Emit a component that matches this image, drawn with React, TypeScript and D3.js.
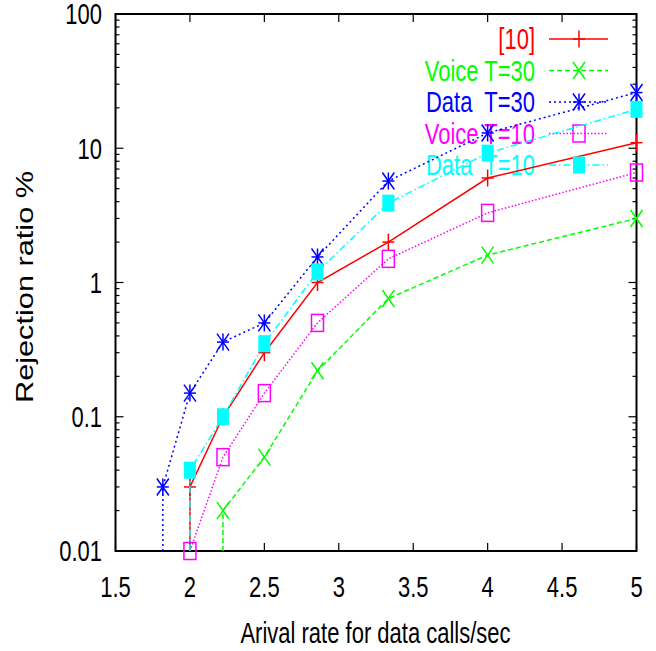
import { useEffect, useRef } from 'react'
import * as d3 from 'd3'

// arrival rates (data calls/sec)
const RATES = [1.818, 2, 2.222, 2.5, 2.857, 3.333, 4, 5]

// rejection ratio % per series, null = not plotted
const REF10 = [null, 0.03, 0.1, 0.3, 1.0, 2.0, 6.0, 11]
const VOICE_T30 = [null, null, 0.02, 0.05, 0.22, 0.76, 1.6, 3.0]
const DATA_T30 = [0.03, 0.15, 0.36, 0.5, 1.55, 5.7, 13, 26]
const VOICE_T10 = [null, 0.01, 0.05, 0.15, 0.5, 1.5, 3.3, 6.6]
const DATA_T10 = [null, 0.04, 0.1, 0.35, 1.2, 3.9, 9.2, 19.5]

const X_TICKS = [1.5, 2, 2.5, 3, 3.5, 4, 4.5, 5]
const Y_TICKS = [0.01, 0.1, 1, 10, 100]

const SERIES = [
  { label: '[10]', values: REF10, color: '#ff0000', dash: null, marker: 'plus' },
  { label: 'Voice T=30', values: VOICE_T30, color: '#00ff00', dash: '5,3', marker: 'cross' },
  { label: 'Data  T=30', values: DATA_T30, color: '#0000ff', dash: '2,3', marker: 'star' },
  { label: 'Voice T=10', values: VOICE_T10, color: '#ff00ff', dash: '1.5,2', marker: 'box' },
  { label: 'Data  T=10', values: DATA_T10, color: '#00ffff', dash: '7,3,1.5,3', marker: 'fbox' },
]

const FONT = "'Liberation Sans', Arial, sans-serif"
const FS = 22
const SY = 1.32 // the original figure is stretched vertically

export default function App() {
  const svgRef = useRef<SVGSVGElement>(null)

  useEffect(() => {
    const svg = d3.select(svgRef.current)
    svg.selectAll('*').remove()

    const L = 115.5, R = 636.5, T = 14, B = 551
    const x = d3.scaleLinear().domain([1.5, 5]).range([L, R])
    const y = d3.scaleLog().domain([0.01, 100]).range([B, T])

    const hText = (g, tx, ty, txt, anchor, color) =>
      g.append('text')
        .attr('transform', `translate(${tx},${ty}) scale(1,${SY})`)
        .attr('text-anchor', anchor)
        .attr('font-family', FONT).attr('font-size', FS)
        .attr('fill', color)
        .style('white-space', 'pre')
        .text(txt)

    const capHalf = (0.716 * FS * SY) / 2

    // ticks
    const tk = svg.append('g').attr('stroke', '#000').attr('stroke-width', 1.2)
    X_TICKS.forEach(v => {
      tk.append('line').attr('x1', x(v)).attr('x2', x(v)).attr('y1', B).attr('y2', B - 8)
      tk.append('line').attr('x1', x(v)).attr('x2', x(v)).attr('y1', T).attr('y2', T + 8)
    })
    Y_TICKS.forEach((v, i) => {
      tk.append('line').attr('x1', L).attr('x2', L + 8).attr('y1', y(v)).attr('y2', y(v))
      tk.append('line').attr('x1', R).attr('x2', R - 8).attr('y1', y(v)).attr('y2', y(v))
      if (i < Y_TICKS.length - 1) {
        for (let m = 2; m <= 9; m++) {
          const yy = y(v * m)
          tk.append('line').attr('x1', L).attr('x2', L + 4).attr('y1', yy).attr('y2', yy)
          tk.append('line').attr('x1', R).attr('x2', R - 4).attr('y1', yy).attr('y2', yy)
        }
      }
    })

    // frame
    svg.append('rect').attr('x', L).attr('y', T).attr('width', R - L).attr('height', B - T)
      .attr('fill', 'none').attr('stroke', '#000').attr('stroke-width', 2)

    // tick labels
    Y_TICKS.forEach(v => hText(svg, 102, y(v) + capHalf, String(v), 'end', '#000'))
    X_TICKS.forEach(v => hText(svg, x(v), 587 + capHalf, String(v), 'middle', '#000'))

    // axis titles
    hText(svg, (L + R) / 2 - 0.5, 643, 'Arival rate for data calls/sec', 'middle', '#000')
    svg.append('text')
      .attr('transform', `translate(33,287) rotate(-90) scale(1.28,1)`)
      .attr('text-anchor', 'middle')
      .attr('font-family', FONT).attr('font-size', 24)
      .text('Rejection ratio %')

    const drawMarker = (g, kind, cx, cy, color) => {
      const w = 6, h = 8.5
      const m = g.append('g').attr('transform', `translate(${cx},${cy})`)
        .attr('stroke', color).attr('stroke-width', 1.5).attr('fill', 'none')
      const seg = (x1, y1, x2, y2) => m.append('line').attr('x1', x1).attr('y1', y1).attr('x2', x2).attr('y2', y2)
      if (kind === 'plus' || kind === 'star') { seg(-w, 0, w, 0); seg(0, -h, 0, h) }
      if (kind === 'cross' || kind === 'star') { seg(-w, -h, w, h); seg(-w, h, w, -h) }
      if (kind === 'box') m.append('rect').attr('x', -w).attr('y', -h).attr('width', 2 * w).attr('height', 2 * h)
      if (kind === 'fbox') m.append('rect').attr('x', -w).attr('y', -h).attr('width', 2 * w).attr('height', 2 * h)
        .attr('fill', color).attr('stroke', 'none')
    }

    // legend text first, curves are drawn over it
    const rowY = [39, 70.5, 102, 133.5, 165]
    SERIES.forEach((s, i) => hText(svg, 535, rowY[i] + capHalf, s.label, 'end', s.color))

    svg.append('defs').append('clipPath').attr('id', 'plot')
      .append('rect').attr('x', L).attr('y', T).attr('width', R - L).attr('height', B - T)

    const line = d3.line<[number, number]>().x(d => d[0]).y(d => d[1])

    SERIES.forEach((s, i) => {
      const pts: [number, number][] = []
      s.values.forEach((v, j) => { if (v != null) pts.push([x(RATES[j]), y(v)]) })
      // curve falls off the log axis below its first point
      const path: [number, number][] = [[pts[0][0], B], ...pts]
      const g = svg.append('g')
      g.append('path').attr('d', line(path)).attr('fill', 'none')
        .attr('stroke', s.color).attr('stroke-width', 1.5)
        .attr('stroke-dasharray', s.dash).attr('clip-path', 'url(#plot)')
      pts.forEach(p => drawMarker(g, s.marker, p[0], p[1], s.color))

      // legend sample
      svg.append('line').attr('x1', 549).attr('x2', 608).attr('y1', rowY[i]).attr('y2', rowY[i])
        .attr('stroke', s.color).attr('stroke-width', 1.5).attr('stroke-dasharray', s.dash)
      drawMarker(svg, s.marker, 579, rowY[i], s.color)
    })
  }, [])

  return (
    <svg ref={svgRef} width={656} height={651}
      style={{ display: 'block', position: 'absolute', left: 0, top: 0, background: '#fff' }} />
  )
}
